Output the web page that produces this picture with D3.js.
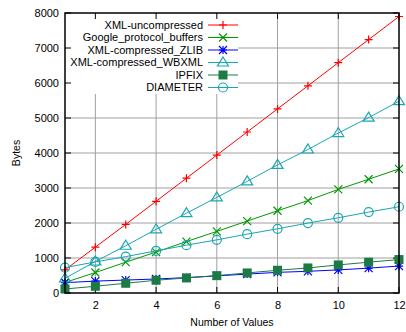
<!DOCTYPE html>
<html>
<head>
<meta charset="utf-8">
<script src="https://cdn.jsdelivr.net/npm/d3@7"></script>
<style>
  html, body { margin: 0; padding: 0; background: #fff; }
  svg { display: block; font-family: "Liberation Sans", Arial, sans-serif; }
</style>
</head>
<body>
<svg id="chart" width="406" height="332"></svg>
<script>
// Message size (bytes) versus number of values carried, per encoding
const numValues = [1, 2, 3, 4, 5, 6, 7, 8, 9, 10, 11, 12];
const xmlUncompressed = [660, 1310, 1960, 2620, 3280, 3940, 4600, 5260, 5920, 6580, 7240, 7900];
const googleProtobuf = [300, 585, 880, 1170, 1470, 1760, 2055, 2350, 2640, 2960, 3250, 3545];
const xmlZlib = [295, 340, 370, 400, 440, 490, 540, 590, 620, 660, 710, 770];
const xmlWbxml = [420, 900, 1350, 1820, 2280, 2730, 3190, 3660, 4100, 4570, 5010, 5480];
const ipfix = [115, 192, 278, 364, 430, 496, 573, 650, 716, 802, 880, 955];
const diameter = [725, 888, 1040, 1203, 1366, 1519, 1682, 1834, 1997, 2149, 2312, 2464];

const xTicks = [2, 4, 6, 8, 10, 12];
const yTicks = [0, 1000, 2000, 3000, 4000, 5000, 6000, 7000, 8000];

const series = [
  { name: "XML-uncompressed", values: xmlUncompressed, color: "#ff0000", symbol: "plus" },
  { name: "Google_protocol_buffers", values: googleProtobuf, color: "#009900", symbol: "cross" },
  { name: "XML-compressed_ZLIB", values: xmlZlib, color: "#0000ff", symbol: "star" },
  { name: "XML-compressed_WBXML", values: xmlWbxml, color: "#1aa6b3", symbol: "triangle" },
  { name: "IPFIX", values: ipfix, color: "#1c7a45", symbol: "square" },
  { name: "DIAMETER", values: diameter, color: "#1aa6b3", symbol: "circle" }
];

const svg = d3.select("#chart");
const plotLeft = 65, plotRight = 399, plotTop = 13, plotBottom = 293;

const x = d3.scaleLinear().domain([1, 12]).range([plotLeft, plotRight]);
const y = d3.scaleLinear().domain([0, 8000]).range([plotBottom, plotTop]);

// Grid lines
const grid = svg.append("g").attr("stroke", "#a0a0a0").attr("stroke-width", 1);
xTicks.filter(t => t < 12).forEach(t => {
  grid.append("line").attr("x1", x(t)).attr("x2", x(t)).attr("y1", plotTop).attr("y2", plotBottom);
});
yTicks.filter(t => t > 0 && t < 8000).forEach(t => {
  grid.append("line").attr("x1", plotLeft).attr("x2", plotRight).attr("y1", y(t)).attr("y2", y(t));
});

// Legend background hides the grid behind the key
svg.append("rect").attr("x", plotLeft + 1).attr("y", plotTop + 1)
  .attr("width", 172).attr("height", 80).attr("fill", "#fff");

// Tick marks on all four sides, pointing inward
const tickLen = 6;
const ticks = svg.append("g").attr("stroke", "#000").attr("stroke-width", 1);
yTicks.forEach(t => {
  ticks.append("line").attr("x1", plotLeft).attr("x2", plotLeft + tickLen).attr("y1", y(t)).attr("y2", y(t));
  ticks.append("line").attr("x1", plotRight).attr("x2", plotRight - tickLen).attr("y1", y(t)).attr("y2", y(t));
});
xTicks.forEach(t => {
  ticks.append("line").attr("x1", x(t)).attr("x2", x(t)).attr("y1", plotBottom).attr("y2", plotBottom - tickLen);
  ticks.append("line").attr("x1", x(t)).attr("x2", x(t)).attr("y1", plotTop).attr("y2", plotTop + tickLen);
});

// Axes via d3 for labels only
const yAxis = d3.axisLeft(y).tickValues(yTicks).tickSize(0).tickPadding(6).tickFormat(d3.format("d"));
const yg = svg.append("g").attr("transform", `translate(${plotLeft},0)`).call(yAxis);
const xAxis = d3.axisBottom(x).tickValues(xTicks).tickSize(0).tickPadding(8).tickFormat(d3.format("d"));
const xg = svg.append("g").attr("transform", `translate(0,${plotBottom})`).call(xAxis);
[yg, xg].forEach(g => {
  g.select(".domain").remove();
  g.selectAll("text").attr("font-size", 11).attr("fill", "#000")
    .attr("font-family", "'Liberation Sans', Arial, sans-serif");
});

// Axis titles
svg.append("text").attr("transform", `translate(20,${(plotTop + plotBottom) / 2}) rotate(-90)`)
  .attr("text-anchor", "middle").attr("font-size", 10.5).text("Bytes");
svg.append("text").attr("x", (plotLeft + plotRight) / 2).attr("y", 326)
  .attr("text-anchor", "middle").attr("font-size", 10.5).text("Number of Values");

// Marker drawing
function drawSymbol(g, type, cx, cy, color) {
  const s = 4;
  if (type === "plus") {
    g.append("path").attr("d", `M${cx - s},${cy}H${cx + s}M${cx},${cy - s}V${cy + s}`)
      .attr("stroke", color).attr("stroke-width", 1.2).attr("fill", "none");
  } else if (type === "cross") {
    g.append("path").attr("d", `M${cx - s},${cy - s}L${cx + s},${cy + s}M${cx - s},${cy + s}L${cx + s},${cy - s}`)
      .attr("stroke", color).attr("stroke-width", 1.2).attr("fill", "none");
  } else if (type === "star") {
    g.append("path").attr("d", `M${cx - s},${cy}H${cx + s}M${cx},${cy - s}V${cy + s}M${cx - s},${cy - s}L${cx + s},${cy + s}M${cx - s},${cy + s}L${cx + s},${cy - s}`)
      .attr("stroke", color).attr("stroke-width", 1.2).attr("fill", "none");
  } else if (type === "triangle") {
    g.append("path").attr("d", `M${cx},${cy - 5.5}L${cx + 5.5},${cy + 3.5}L${cx - 5.5},${cy + 3.5}Z`)
      .attr("stroke", color).attr("stroke-width", 1.2).attr("fill", "none");
  } else if (type === "square") {
    g.append("rect").attr("x", cx - 4.5).attr("y", cy - 4.5).attr("width", 9).attr("height", 9)
      .attr("fill", color);
  } else if (type === "circle") {
    g.append("circle").attr("cx", cx).attr("cy", cy).attr("r", 4.5)
      .attr("stroke", color).attr("stroke-width", 1.2).attr("fill", "none");
  }
}

// Series lines and markers
const line = d3.line().x((d, i) => x(numValues[i])).y(d => y(d));
const plot = svg.append("g");
series.forEach(s => {
  const g = plot.append("g");
  g.append("path").attr("d", line(s.values)).attr("fill", "none")
    .attr("stroke", s.color).attr("stroke-width", 1);
  s.values.forEach((v, i) => drawSymbol(g, s.symbol, x(numValues[i]), y(v), s.color));
});

// Legend
const legend = svg.append("g");
series.forEach((s, i) => {
  const ly = 25 + i * 12.5;
  legend.append("text").attr("x", 203).attr("y", ly).attr("dy", "0.35em")
    .attr("text-anchor", "end").attr("font-size", 11).text(s.name);
  legend.append("line").attr("x1", 208).attr("x2", 238).attr("y1", ly).attr("y2", ly)
    .attr("stroke", s.color).attr("stroke-width", 1);
  drawSymbol(legend, s.symbol, 223, ly, s.color);
});

// Plot frame
svg.append("rect").attr("x", plotLeft).attr("y", plotTop).attr("width", plotRight - plotLeft).attr("height", plotBottom - plotTop)
  .attr("fill", "none").attr("stroke", "#000").attr("stroke-width", 1.5);
</script>
</body>
</html>
